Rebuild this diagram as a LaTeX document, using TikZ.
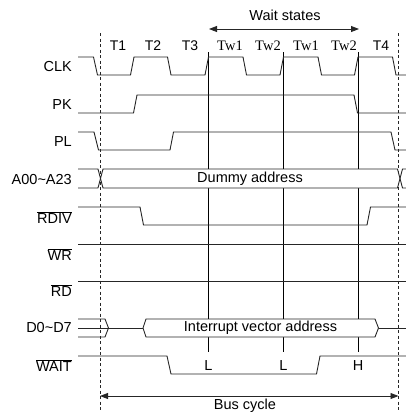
\documentclass[tikz,border=0pt]{standalone}
\usepackage{fontspec}
\setmainfont{Liberation Sans}
\newfontfamily\tmsfont{Liberation Serif}
\usetikzlibrary{arrows.meta}
\tikzset{
  sig/.style={draw=black!85, line width=0.9pt, line join=miter},
  vline/.style={draw=black, line width=0.9pt},
  dline/.style={draw=black!85, line width=0.8pt, dash pattern=on 3pt off 2.5pt},
  lab/.style={anchor=east, inner sep=0pt, font=\fontsize{14.5}{16}\selectfont},
  tlab/.style={inner sep=0pt, font=\fontsize{14}{16}\selectfont},
  twlab/.style={inner sep=0pt, font=\tmsfont\fontsize{14.5}{16}\selectfont},
  txt/.style={inner sep=0pt, font=\fontsize{14.5}{16}\selectfont},
  dimarrow/.style={draw=black!85, line width=0.9pt, {Triangle[length=8pt,width=6pt]}-{Triangle[length=8pt,width=6pt]}},
  busfill/.style={fill=white, draw=none}
}
\begin{document}
\begin{tikzpicture}[x=1pt,y=-1pt]
\useasboundingbox (0,0) rectangle (406,413);

% signal labels
\node[lab] (lclk) at (72,67) {CLK};
\node[lab] (lpk) at (72,105) {PK};
\node[lab] (lpl) at (72,142) {PL};
\node[lab] (laddr) at (72,180) {A00\textasciitilde A23};
\node[lab] (lrdiv) at (72,218) {$\overline{\mbox{RDIV}}$};
\node[lab] (lwr) at (72,255) {$\overline{\mbox{WR}}$};
\node[lab] (lrd) at (72,291) {$\overline{\mbox{RD}}$};
\node[lab] (ldata) at (72,328) {D0\textasciitilde D7};
\node[lab] (lwait) at (72,366) {$\overline{\mbox{WAIT}}$};

% state labels
\node[tlab] (t1) at (118,46) {T1};
\node[tlab] (t2) at (153,46) {T2};
\node[tlab] (t3) at (190,46) {T3};
\node[twlab] (tw1a) at (230,46) {Tw1};
\node[twlab] (tw2a) at (268,46) {Tw2};
\node[twlab] (tw1b) at (306,46) {Tw1};
\node[twlab] (tw2b) at (344,46) {Tw2};
\node[tlab] (t4) at (381,46) {T4};

% wait states arrow
\node[txt] (ws) at (285,15) {Wait states};
\coordinate (wsl) at (209,29);
\coordinate (wsr) at (359,29);
\draw[dimarrow] (wsl) -- (wsr);

% dashed bus-cycle boundaries
\coordinate (dlt) at (100,33); \coordinate (dlb) at (100,410);
\coordinate (drt) at (398.5,33); \coordinate (drb) at (398.5,410);
\draw[dline] (dlt) -- (dlb);
\draw[dline] (drt) -- (drb);

% solid verticals
\foreach \x in {208.5,283.5,358}{
  \draw[vline] (\x,52) -- (\x,352);
}

% CLK
\draw[sig] (78,57) -- (93.5,57) -- (97.5,75) -- (130.5,75) -- (134,57) -- (167.5,57) -- (171,75)
  -- (205,75) -- (208.5,57) -- (243,57) -- (246.5,75) -- (280,75) -- (283.5,57) -- (318,57)
  -- (321.5,75) -- (354.5,75) -- (358,57) -- (392.5,57) -- (396,75) -- (406,75);
% PK
\draw[sig] (78,113) -- (133.5,113) -- (137,95) -- (354,95) -- (357.5,113) -- (406,113);
% PL
\draw[sig] (78,132) -- (94,132) -- (98.5,150) -- (170,150) -- (173.5,132) -- (391,132) -- (395,150) -- (406,150);

% A00~A23 bus
\fill[busfill] (100.5,178.5) -- (103,169) -- (397.5,169) -- (400,178.5) -- (397.5,188) -- (103,188) -- cycle;
\draw[sig] (78,169) -- (98,169) -- (103,188) -- (397.5,188) -- (402.5,169) -- (406,169);
\draw[sig] (78,188) -- (98,188) -- (103,169) -- (397.5,169) -- (402.5,188) -- (406,188);
\node[txt] (dummy) at (250,179) {Dummy address};

% RDIV
\draw[sig] (78,207) -- (140,207) -- (143.5,225) -- (367,225) -- (370.5,207) -- (406,207);
% WR, RD
\draw[sig] (78,244) -- (406,244);
\draw[sig] (78,281) -- (406,281);

% D0~D7 bus
\draw[sig] (78,319) -- (105,319) -- (108.5,328) -- (105,337) -- (78,337);
\draw[sig] (78,328) -- (143,328);
\filldraw[sig, fill=white] (143,328) -- (146,319) -- (375,319) -- (378.5,328) -- (375,337) -- (146,337) -- cycle;
\draw[sig] (378.5,328) -- (406,328);
\node[txt] (ivec) at (260.5,328) {Interrupt vector address};

% WAIT
\draw[sig] (78,356) -- (167,356) -- (171,374) -- (316.5,374) -- (320,356) -- (406,356);
\node[txt] (wl1) at (208.5,366) {L};
\node[txt] (wl2) at (283.5,366) {L};
\node[txt] (wh) at (358,366) {H};

% bus cycle arrow
\coordinate (bcl) at (100,396);
\coordinate (bcr) at (398.5,396);
\draw[dimarrow] (bcl) -- (bcr);
\node[txt] (bc) at (245,406) {Bus cycle};
\end{tikzpicture}
\end{document}
